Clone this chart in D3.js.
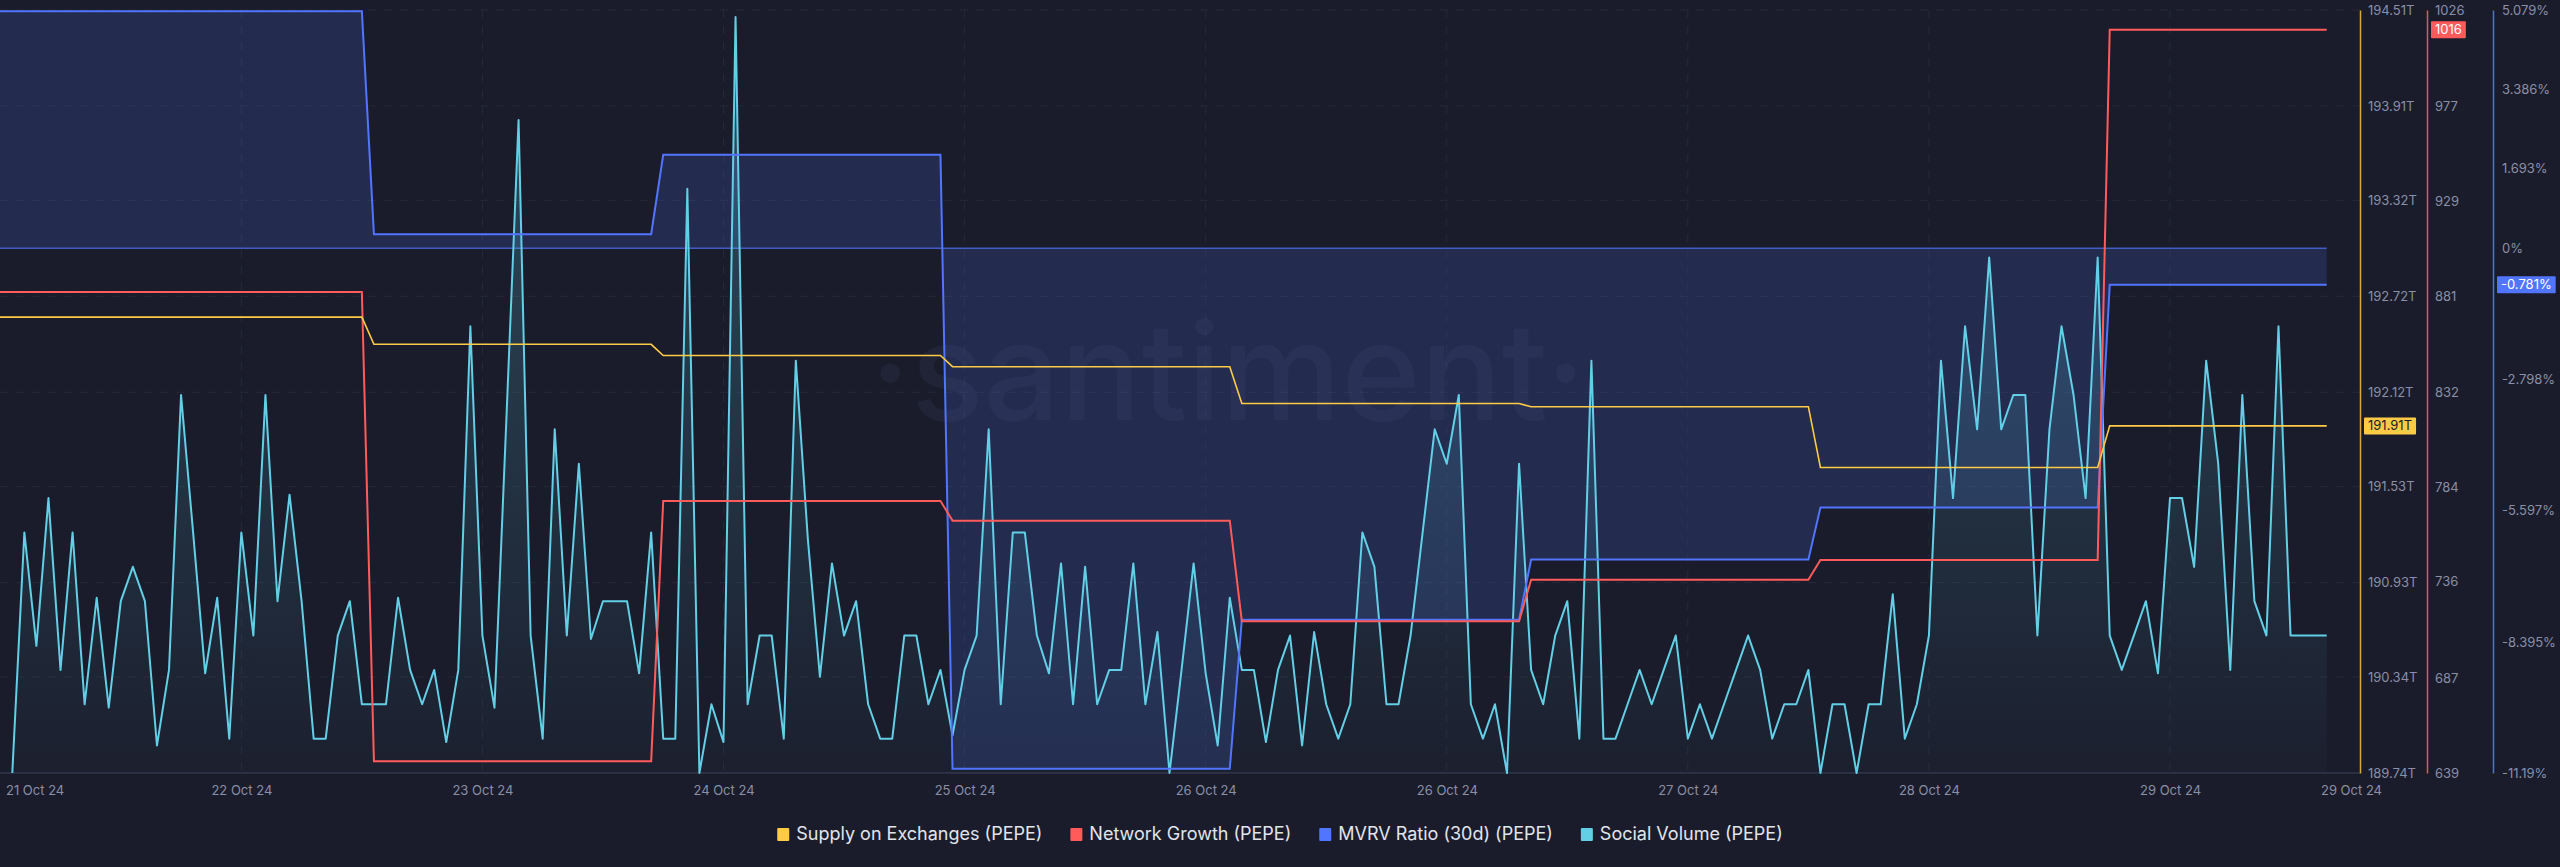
<!DOCTYPE html>
<html>
<head>
<script src="https://d3js.org/d3.v7.min.js"></script>
<style>
  body { margin: 0; background: #1a1c2b; }
  svg { display: block; }
</style>
</head>
<body>
<svg id="chart" width="2560" height="867"></svg>
<script>
// hourly social volume, 193 points (hour 0 .. 192)
const socialVolume = [
  0, 7, 3.7, 8, 3, 7, 2, 5.1, 1.9, 5, 6, 5, 0.8, 3, 11, 7, 2.9, 5.1, 1, 7,
  4, 11, 5, 8.1, 5, 1, 1, 4, 5, 2, 2, 2, 5.1, 3, 2, 3, 0.9, 3, 13, 4,
  1.9, 10.4, 19, 4, 1, 10, 4, 9, 3.9, 5, 5, 5, 2.9, 7, 1, 1, 17, 0, 2, 0.9,
  22, 2, 4, 4, 1, 12, 6.8, 2.8, 6.1, 4, 5, 2, 1, 1, 4, 4, 2, 3, 1.1, 3,
  4, 10, 2, 7, 7, 4, 2.9, 6.1, 2, 6, 2, 3, 3, 6.1, 2, 4.1, 0, 3, 6.1, 2.9,
  0.8, 5.1, 3, 3, 0.9, 3, 4, 0.8, 4.1, 2, 1, 2, 7, 6, 2, 2, 4, 7, 10, 9,
  11, 2, 1, 2, 0, 9, 3, 2, 4, 5, 1, 12, 1, 1, 2, 3, 2, 3, 4, 1,
  2, 1, 2, 3, 4, 3, 1, 2, 2, 3, 0, 2, 2, 0, 2, 2, 5.2, 1, 2, 4,
  12, 8, 13, 10, 15, 10, 11, 11, 4, 10, 13, 11, 8, 15, 4, 3, 4, 5, 2.9, 8,
  8, 6, 12, 9, 3, 11, 5, 4, 13, 4, 4, 4, 4
];

// daily metrics: hour at which each daily value starts
const dayStartHour = [0, 30, 54, 78, 102, 126, 150, 174];
const supplyOnExchanges = [192.59, 192.42, 192.35, 192.28, 192.05, 192.03, 191.65, 191.91]; // T
const networkGrowth = [883, 645, 777, 767, 716, 737, 747, 1016];
const mvrvRatio = [5.05, 0.30, 1.99, -11.10, -7.92, -6.64, -5.53, -0.781]; // %

const xTickHours = [19, 39, 59, 79, 99, 119, 139, 159, 179];
const xTickLabels = ["22 Oct 24", "23 Oct 24", "24 Oct 24", "25 Oct 24", "26 Oct 24",
                     "26 Oct 24", "27 Oct 24", "28 Oct 24", "29 Oct 24"];
const xFirstLabel = "21 Oct 24";
const xLastLabel = "29 Oct 24";

const supplyTicks = [194.51, 193.91, 193.32, 192.72, 192.12, 191.53, 190.93, 190.34, 189.74];
const growthTicks = [1026, 977, 929, 881, 832, 784, 736, 687, 639];
const mvrvTicks = [5.079, 3.386, 1.693, 0, -2.798, -5.597, -8.395, -11.19];

const legendNames = ["Supply on Exchanges (PEPE)", "Network Growth (PEPE)", "MVRV Ratio (30d) (PEPE)", "Social Volume (PEPE)"];
const colors = {supply: "#ffcb47", growth: "#ff5b5b", mvrv: "#5275ff", social: "#62cfe6"};
const legendColors = [colors.supply, colors.growth, colors.mvrv, colors.social];

const svg = d3.select("svg#chart");
const font = "Inter, Roboto, sans-serif";
const plotTop = 10, plotBottom = 773, plotRight = 2360;

// scales
const x = d3.scaleLinear().domain([0, socialVolume.length - 1]).range([12.3, 2326.7]);
const ySupply = d3.scaleLinear().domain([189.74, 194.51]).range([plotBottom, plotTop]);
const yGrowth = d3.scaleLinear().domain([639, 1026]).range([plotBottom, plotTop]);
const yMvrv = d3.scaleLinear().domain([-11.19, 5.079]).range([plotBottom, plotTop]);
const ySocial = d3.scaleLinear().domain([0, 22]).range([plotBottom, 17]);

// gridlines
const grid = svg.append("g");
grid.selectAll("line.h").data(supplyTicks).join("line")
    .attr("x1", 0).attr("x2", plotRight)
    .attr("y1", d => ySupply(d)).attr("y2", d => ySupply(d))
    .style("stroke", "#262938").style("stroke-dasharray", "8,8");
grid.selectAll("line.v").data(xTickHours).join("line")
    .attr("x1", d => x(d)).attr("x2", d => x(d))
    .attr("y1", plotTop).attr("y2", plotBottom)
    .style("stroke", "#262938").style("stroke-dasharray", "8,8");

svg.append("line")
    .attr("x1", 0).attr("x2", plotRight).attr("y1", plotBottom).attr("y2", plotBottom)
    .style("stroke", "#2b2e42").style("stroke-width", 2);

// daily step points
function stepPoints(values) {
    const pts = [];
    values.forEach((v, i) => {
        const s = i === 0 ? x.invert(0) : dayStartHour[i];
        const e = i < values.length - 1 ? dayStartHour[i + 1] - 1 : socialVolume.length - 1;
        pts.push([s, v], [e, v]);
    });
    return pts;
}

const defs = svg.append("defs");
const grad = defs.append("linearGradient").attr("id", "socialFill")
    .attr("gradientUnits", "userSpaceOnUse")
    .attr("x1", 0).attr("x2", 0).attr("y1", plotTop).attr("y2", plotBottom);
grad.append("stop").attr("offset", "0%").attr("stop-color", colors.social).attr("stop-opacity", 0.28);
grad.append("stop").attr("offset", "100%").attr("stop-color", colors.social).attr("stop-opacity", 0.02);

// MVRV area against 0%
const mvrvPts = stepPoints(mvrvRatio);
svg.append("path")
    .attr("d", d3.area().x(d => x(d[0])).y0(yMvrv(0)).y1(d => yMvrv(d[1]))(mvrvPts))
    .style("fill", colors.mvrv).style("fill-opacity", 0.17);

svg.append("line")
    .attr("x1", 0).attr("x2", x(socialVolume.length - 1))
    .attr("y1", yMvrv(0)).attr("y2", yMvrv(0))
    .style("stroke", colors.mvrv).style("stroke-opacity", 0.7).style("stroke-width", 1.5);

// social volume area
svg.append("path")
    .attr("d", d3.area().x((d, i) => x(i)).y0(plotBottom).y1(d => ySocial(d))(socialVolume))
    .style("fill", "url(#socialFill)");

// watermark
svg.append("text")
    .attr("x", 1228).attr("y", 420)
    .attr("text-anchor", "middle")
    .style("font-family", font).style("font-size", "135px").style("font-weight", 500)
    .style("fill", "#8a96d0").style("fill-opacity", 0.065)
    .text("·santiment·");

// lines
svg.append("path")
    .attr("d", d3.line().x((d, i) => x(i)).y(d => ySocial(d))(socialVolume))
    .style("fill", "none").style("stroke", colors.social).style("stroke-width", 2)
    .style("stroke-linejoin", "round");

svg.append("path")
    .attr("d", d3.line().x(d => x(d[0])).y(d => yMvrv(d[1]))(mvrvPts))
    .style("fill", "none").style("stroke", colors.mvrv).style("stroke-width", 2);

svg.append("path")
    .attr("d", d3.line().x(d => x(d[0])).y(d => yGrowth(d[1]))(stepPoints(networkGrowth)))
    .style("fill", "none").style("stroke", colors.growth).style("stroke-width", 2);

svg.append("path")
    .attr("d", d3.line().x(d => x(d[0])).y(d => ySupply(d[1]))(stepPoints(supplyOnExchanges)))
    .style("fill", "none").style("stroke", colors.supply).style("stroke-width", 1.6);

// right axes
function styleAxis(g, lineColor) {
    g.select(".domain").style("stroke", lineColor).style("stroke-width", 1.5);
    g.selectAll("text").style("font-family", font).style("font-size", "13px").style("fill", "#8a8fa6");
}
svg.append("g").attr("transform", `translate(${plotRight},0)`)
    .call(d3.axisRight(ySupply).tickValues(supplyTicks).tickSize(0).tickPadding(8)
        .tickFormat(d => d.toFixed(2) + "T"))
    .call(g => styleAxis(g, "#d9a93c"));
svg.append("g").attr("transform", "translate(2427,0)")
    .call(d3.axisRight(yGrowth).tickValues(growthTicks).tickSize(0).tickPadding(8)
        .tickFormat(d => d))
    .call(g => styleAxis(g, "#e85353"));
svg.append("g").attr("transform", "translate(2493,0)")
    .call(d3.axisRight(yMvrv).tickValues(mvrvTicks).tickSize(0).tickPadding(9)
        .tickFormat(d => d + "%"))
    .call(g => styleAxis(g, "#4f6ee8"));

// last value badges
function badge(ax, yv, label, fill, textColor) {
    const g = svg.append("g");
    const t = g.append("text").attr("x", ax + 8).attr("y", yv).attr("dy", "0.35em")
        .style("font-family", font).style("font-size", "13px").style("fill", textColor).text(label);
    const w = t.node().getComputedTextLength();
    g.insert("rect", "text").attr("x", ax + 4).attr("y", yv - 8.5)
        .attr("width", w + 8).attr("height", 17).attr("rx", 1).style("fill", fill);
}
badge(2427, yGrowth(networkGrowth[networkGrowth.length - 1]), String(networkGrowth[networkGrowth.length - 1]), colors.growth, "#ffffff");
badge(plotRight, ySupply(supplyOnExchanges[supplyOnExchanges.length - 1]), supplyOnExchanges[supplyOnExchanges.length - 1].toFixed(2) + "T", colors.supply, "#1a1c2b");
badge(2493, yMvrv(mvrvRatio[mvrvRatio.length - 1]), mvrvRatio[mvrvRatio.length - 1] + "%", colors.mvrv, "#ffffff");

// bottom axis
const xAxis = svg.append("g").attr("transform", `translate(0,${plotBottom})`)
    .call(d3.axisBottom(x).tickValues(xTickHours).tickSize(0).tickPadding(13)
        .tickFormat((d, i) => xTickLabels[i]));
xAxis.select(".domain").remove();
xAxis.selectAll("text").style("font-family", font).style("font-size", "13px").style("fill", "#8a8fa6");
svg.append("text").attr("x", 6).attr("y", 790).attr("dy", "0.35em")
    .style("font-family", font).style("font-size", "13px").style("fill", "#8a8fa6").text(xFirstLabel);
svg.append("text").attr("x", 2382).attr("y", 790).attr("dy", "0.35em").attr("text-anchor", "end")
    .style("font-family", font).style("font-size", "13px").style("fill", "#8a8fa6").text(xLastLabel);

// legend
const legend = svg.append("g");
let lx = 0;
legendNames.forEach((name, i) => {
    const item = legend.append("g").attr("transform", `translate(${lx},0)`);
    item.append("rect").attr("x", 0).attr("y", -6).attr("width", 12).attr("height", 13)
        .attr("rx", 1).style("fill", legendColors[i]);
    const t = item.append("text").attr("x", 19).attr("y", 0).attr("dy", "0.35em")
        .style("font-family", font).style("font-size", "18px").style("fill", "#e2e4ec").text(name);
    lx += 19 + t.node().getComputedTextLength() + 28;
});
lx -= 28;
legend.attr("transform", `translate(${1280 - lx / 2},834)`);
</script>
</body>
</html>
